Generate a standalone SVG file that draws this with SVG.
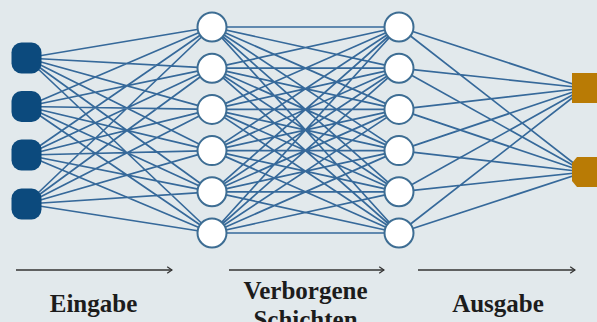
<svg xmlns="http://www.w3.org/2000/svg" width="597" height="322" viewBox="0 0 597 322">
<defs>
<style>
.e{stroke:#36699a;stroke-width:1.7;fill:none}
.in{fill:#0c4a7d}
.h{fill:#ffffff;stroke:#3d6d93;stroke-width:2}
.out{fill:#b97b05}
.ar{stroke:#333;stroke-width:1.6;fill:none}
.t{font-family:"Liberation Serif","DejaVu Serif",serif;font-weight:bold;font-size:25px;fill:#1c1c1c;text-anchor:middle}
</style>
<marker id="ah" viewBox="0 0 10 10" refX="9" refY="5" markerWidth="8" markerHeight="8" markerUnits="userSpaceOnUse" orient="auto">
<path d="M3,1 L9,5 L3,9" fill="none" stroke="#333" stroke-width="1.6"/>
</marker>
</defs>
<rect width="597" height="322" fill="#e2e9ec"/>
<g id="connectors">
<path class="e" d="
M26.5,58 L212,27 M26.5,58 L212,68.2 M26.5,58 L212,109.4 M26.5,58 L212,150.6 M26.5,58 L212,191.8 M26.5,58 L212,233
M26.5,106.5 L212,27 M26.5,106.5 L212,68.2 M26.5,106.5 L212,109.4 M26.5,106.5 L212,150.6 M26.5,106.5 L212,191.8 M26.5,106.5 L212,233
M26.5,155 L212,27 M26.5,155 L212,68.2 M26.5,155 L212,109.4 M26.5,155 L212,150.6 M26.5,155 L212,191.8 M26.5,155 L212,233
M26.5,204 L212,27 M26.5,204 L212,68.2 M26.5,204 L212,109.4 M26.5,204 L212,150.6 M26.5,204 L212,191.8 M26.5,204 L212,233
M212,27 L399,27 M212,27 L399,68.2 M212,27 L399,109.4 M212,27 L399,150.6 M212,27 L399,191.8 M212,27 L399,233
M212,68.2 L399,27 M212,68.2 L399,68.2 M212,68.2 L399,109.4 M212,68.2 L399,150.6 M212,68.2 L399,191.8 M212,68.2 L399,233
M212,109.4 L399,27 M212,109.4 L399,68.2 M212,109.4 L399,109.4 M212,109.4 L399,150.6 M212,109.4 L399,191.8 M212,109.4 L399,233
M212,150.6 L399,27 M212,150.6 L399,68.2 M212,150.6 L399,109.4 M212,150.6 L399,150.6 M212,150.6 L399,191.8 M212,150.6 L399,233
M212,191.8 L399,27 M212,191.8 L399,68.2 M212,191.8 L399,109.4 M212,191.8 L399,150.6 M212,191.8 L399,191.8 M212,191.8 L399,233
M212,233 L399,27 M212,233 L399,68.2 M212,233 L399,109.4 M212,233 L399,150.6 M212,233 L399,191.8 M212,233 L399,233
M399,27 L585,88 M399,27 L585,172
M399,68.2 L585,88 M399,68.2 L585,172
M399,109.4 L585,88 M399,109.4 L585,172
M399,150.6 L585,88 M399,150.6 L585,172
M399,191.8 L585,88 M399,191.8 L585,172
M399,233 L585,88 M399,233 L585,172"/>
</g>
<g id="input-1"><rect class="in" x="11.5" y="42.5" width="30" height="31" rx="10"/></g>
<g id="input-2"><rect class="in" x="11.5" y="91" width="30" height="31" rx="10"/></g>
<g id="input-3"><rect class="in" x="11.5" y="139.5" width="30" height="31" rx="10"/></g>
<g id="input-4"><rect class="in" x="11.5" y="188.5" width="30" height="31" rx="10"/></g>
<g id="hidden1-1"><circle class="h" cx="212" cy="27" r="14.5"/></g>
<g id="hidden1-2"><circle class="h" cx="212" cy="68.2" r="14.5"/></g>
<g id="hidden1-3"><circle class="h" cx="212" cy="109.4" r="14.5"/></g>
<g id="hidden1-4"><circle class="h" cx="212" cy="150.6" r="14.5"/></g>
<g id="hidden1-5"><circle class="h" cx="212" cy="191.8" r="14.5"/></g>
<g id="hidden1-6"><circle class="h" cx="212" cy="233" r="14.5"/></g>
<g id="hidden2-1"><circle class="h" cx="399" cy="27" r="14.5"/></g>
<g id="hidden2-2"><circle class="h" cx="399" cy="68.2" r="14.5"/></g>
<g id="hidden2-3"><circle class="h" cx="399" cy="109.4" r="14.5"/></g>
<g id="hidden2-4"><circle class="h" cx="399" cy="150.6" r="14.5"/></g>
<g id="hidden2-5"><circle class="h" cx="399" cy="191.8" r="14.5"/></g>
<g id="hidden2-6"><circle class="h" cx="399" cy="233" r="14.5"/></g>
<g id="output-1"><rect class="out" x="572" y="73" width="30" height="30"/></g>
<g id="output-2"><polygon class="out" points="577,157 602,157 602,187 577,187 572,181 572,163"/></g>
<g id="arrows">
<line class="ar" x1="16" y1="270" x2="172" y2="270" marker-end="url(#ah)"/>
<line class="ar" x1="229" y1="270" x2="384" y2="270" marker-end="url(#ah)"/>
<line class="ar" x1="418" y1="270" x2="575" y2="270" marker-end="url(#ah)"/>
</g>
<g id="labels">
<text class="t" x="93.5" y="312">Eingabe</text>
<text class="t" x="305.5" y="299">Verborgene</text>
<text class="t" x="305.5" y="328">Schichten</text>
<text class="t" x="498" y="312">Ausgabe</text>
</g>
</svg>
